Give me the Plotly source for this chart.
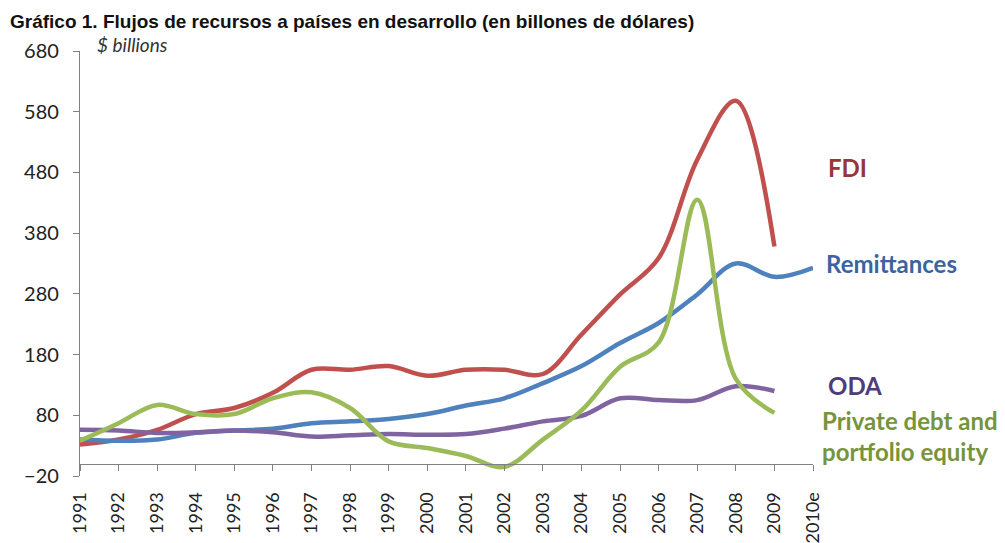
import plotly.graph_objects as go

years = ["1991", "1992", "1993", "1994", "1995", "1996", "1997", "1998", "1999", "2000",
         "2001", "2002", "2003", "2004", "2005", "2006", "2007", "2008", "2009", "2010e"]

fdi = [32, 40, 56, 82, 92, 117, 155, 155, 161, 145, 155, 155, 148, 213, 279, 339, 501, 598, 358]
remittances = [40, 38, 40, 51, 55, 58, 67, 70, 74, 82, 96, 108, 133, 161, 199, 232, 279, 330, 308, 323]
oda = [56, 55, 51, 52, 55, 52, 45, 47, 49, 48, 49, 58, 70, 79, 108, 105, 105, 128, 120]
private = [38, 67, 97, 82, 82, 108, 118, 92, 37, 26, 13, -5, 40, 88, 160, 200, 435, 140, 84]

series = [
    ("FDI", fdi, "#C0504D"),
    ("Remittances", remittances, "#4F81BD"),
    ("ODA", oda, "#8064A2"),
    ("Private debt and portfolio equity", private, "#9BBB59"),
]

labels = [
    ("FDI", "#953735", 1.0177, 0.725),
    ("Remittances", "#3A64A0", 1.0150, 0.499),
    ("ODA", "#4F3C78", 1.0177, 0.212),
    ("Private debt and<br>portfolio equity", "#77933C", 1.0096, 0.094),
]

fig = go.Figure()
for name, vals, color in series:
    fig.add_trace(go.Scatter(
        x=years[:len(vals)], y=vals, mode="lines", name=name,
        line=dict(color=color, width=4.5, shape="spline", smoothing=1.0),
        hoverinfo="x+y+name",
    ))

# invisible trace to carry the axis drawn at y = 0
fig.add_trace(go.Scatter(x=years, y=[0] * len(years), xaxis="x2", mode="lines",
                         line=dict(width=0), hoverinfo="skip", showlegend=False))

for text, color, x, y in labels:
    fig.add_annotation(text="<b>" + text + "</b>", xref="paper", yref="paper", x=x, y=y,
                       xanchor="left", yanchor="middle", align="left", showarrow=False,
                       font=dict(family="Lato", size=24, color=color))

fig.add_annotation(text="<i>$ billions</i>", xref="paper", yref="paper", x=0.0204,
                   y=(468 - 37) / 425, xanchor="left", yanchor="middle", showarrow=False,
                   font=dict(family="Lato", size=19, color="#333333"))

fig.update_layout(
    width=1005, height=543,
    margin=dict(l=72, r=200, t=43, b=75),
    paper_bgcolor="white", plot_bgcolor="white",
    showlegend=False,
    title=dict(text="<b>Gráfico 1. Flujos de recursos a países en desarrollo (en billones de dólares)</b>",
               x=0.002, xanchor="left", y=1 - 13 / 543, yanchor="middle", xref="container",
               yref="container",
               font=dict(family="Liberation Sans", size=19, color="#111111")),
    xaxis=dict(type="category", range=[0, 19], showline=False, showgrid=False, zeroline=False,
               tickangle=-90, ticks="outside", ticklen=8, tickcolor="rgba(0,0,0,0)",
               automargin=False,
               tickfont=dict(family="Lato", size=18, color="#222222")),
    xaxis2=dict(type="category", range=[0, 19], overlaying="x", anchor="free", position=20 / 700,
                side="bottom", showline=True, linecolor="#808080", linewidth=1.2,
                ticks="outside", ticklen=6, tickcolor="#808080", showticklabels=False,
                showgrid=False, zeroline=False),
    yaxis=dict(range=[-20, 680], tick0=-20, dtick=100, showline=True, linecolor="#808080",
               linewidth=1.2, ticks="outside", ticklen=6, tickcolor="#808080",
               showgrid=False, zeroline=False, automargin=False, ticklabelstandoff=10,
               tickfont=dict(family="Lato", size=20, color="#222222")),
)

fig.write_html("out.html")
